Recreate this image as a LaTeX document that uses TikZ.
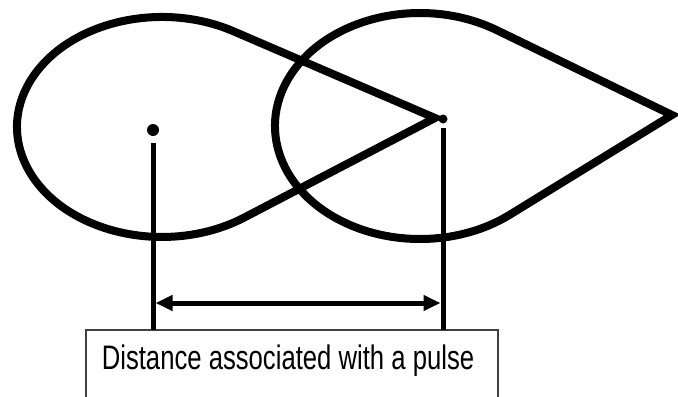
\documentclass[tikz,border=0pt]{standalone}
\usepackage{fontspec}
\setmainfont{Liberation Sans}
\usetikzlibrary{arrows.meta,calc}
\begin{document}
\begin{tikzpicture}[x=0.5pt,y=-0.5pt,
  outline/.style={line width=4pt,line join=miter,black},
  leader/.style={line width=2.5pt,black},
  dimline/.style={line width=2.5pt,black,{Triangle[length=8.5pt,width=7.5pt]}-{Triangle[length=8.5pt,width=7.5pt]}},
  dotmark/.style={circle,fill=black,inner sep=0pt,minimum size=#1},
  labelbox/.style={draw=black!75,line width=0.75pt},
  labeltext/.style={font=\fontsize{17}{20}\selectfont,inner sep=0pt,anchor=base}]
\useasboundingbox (0,0) rectangle (678,396);
\clip (0,0) rectangle (678,396);
% left teardrop
\coordinate (tipA) at (435,118);
\draw[outline] (tipA) -- (233.5,31.3)
  arc[start angle=-60.44,end angle=-304.54,x radius=145,y radius=110] -- cycle;
% right teardrop
\coordinate (tipB) at (672,115);
\draw[outline] (tipB) -- (496.2,29.9)
  arc[start angle=-58.28,end angle=-308.10,x radius=145,y radius=113] -- cycle;
% centre marks
\node[dotmark=6pt] (c1) at (153,130) {};
\node[dotmark=4.5pt] (c2) at (443,119) {};
% label box
\draw[labelbox] (86,330) rectangle (498,420);
\node[labeltext] (lbl) at (288,369) {\scalebox{0.755}[1]{Distance associated with a pulse}};
% leader lines
\coordinate (l1t) at (153,143);
\coordinate (l1b) at (153,330);
\coordinate (l2t) at (443,128);
\coordinate (l2b) at (443,330);
\draw[leader] (l1t) -- (l1b);
\draw[leader] (l2t) -- (l2b);
% dimension arrow
\coordinate (d1) at (155.5,303);
\coordinate (d2) at (440.5,303);
\draw[dimline] (d1) -- (d2);
\end{tikzpicture}
\end{document}
